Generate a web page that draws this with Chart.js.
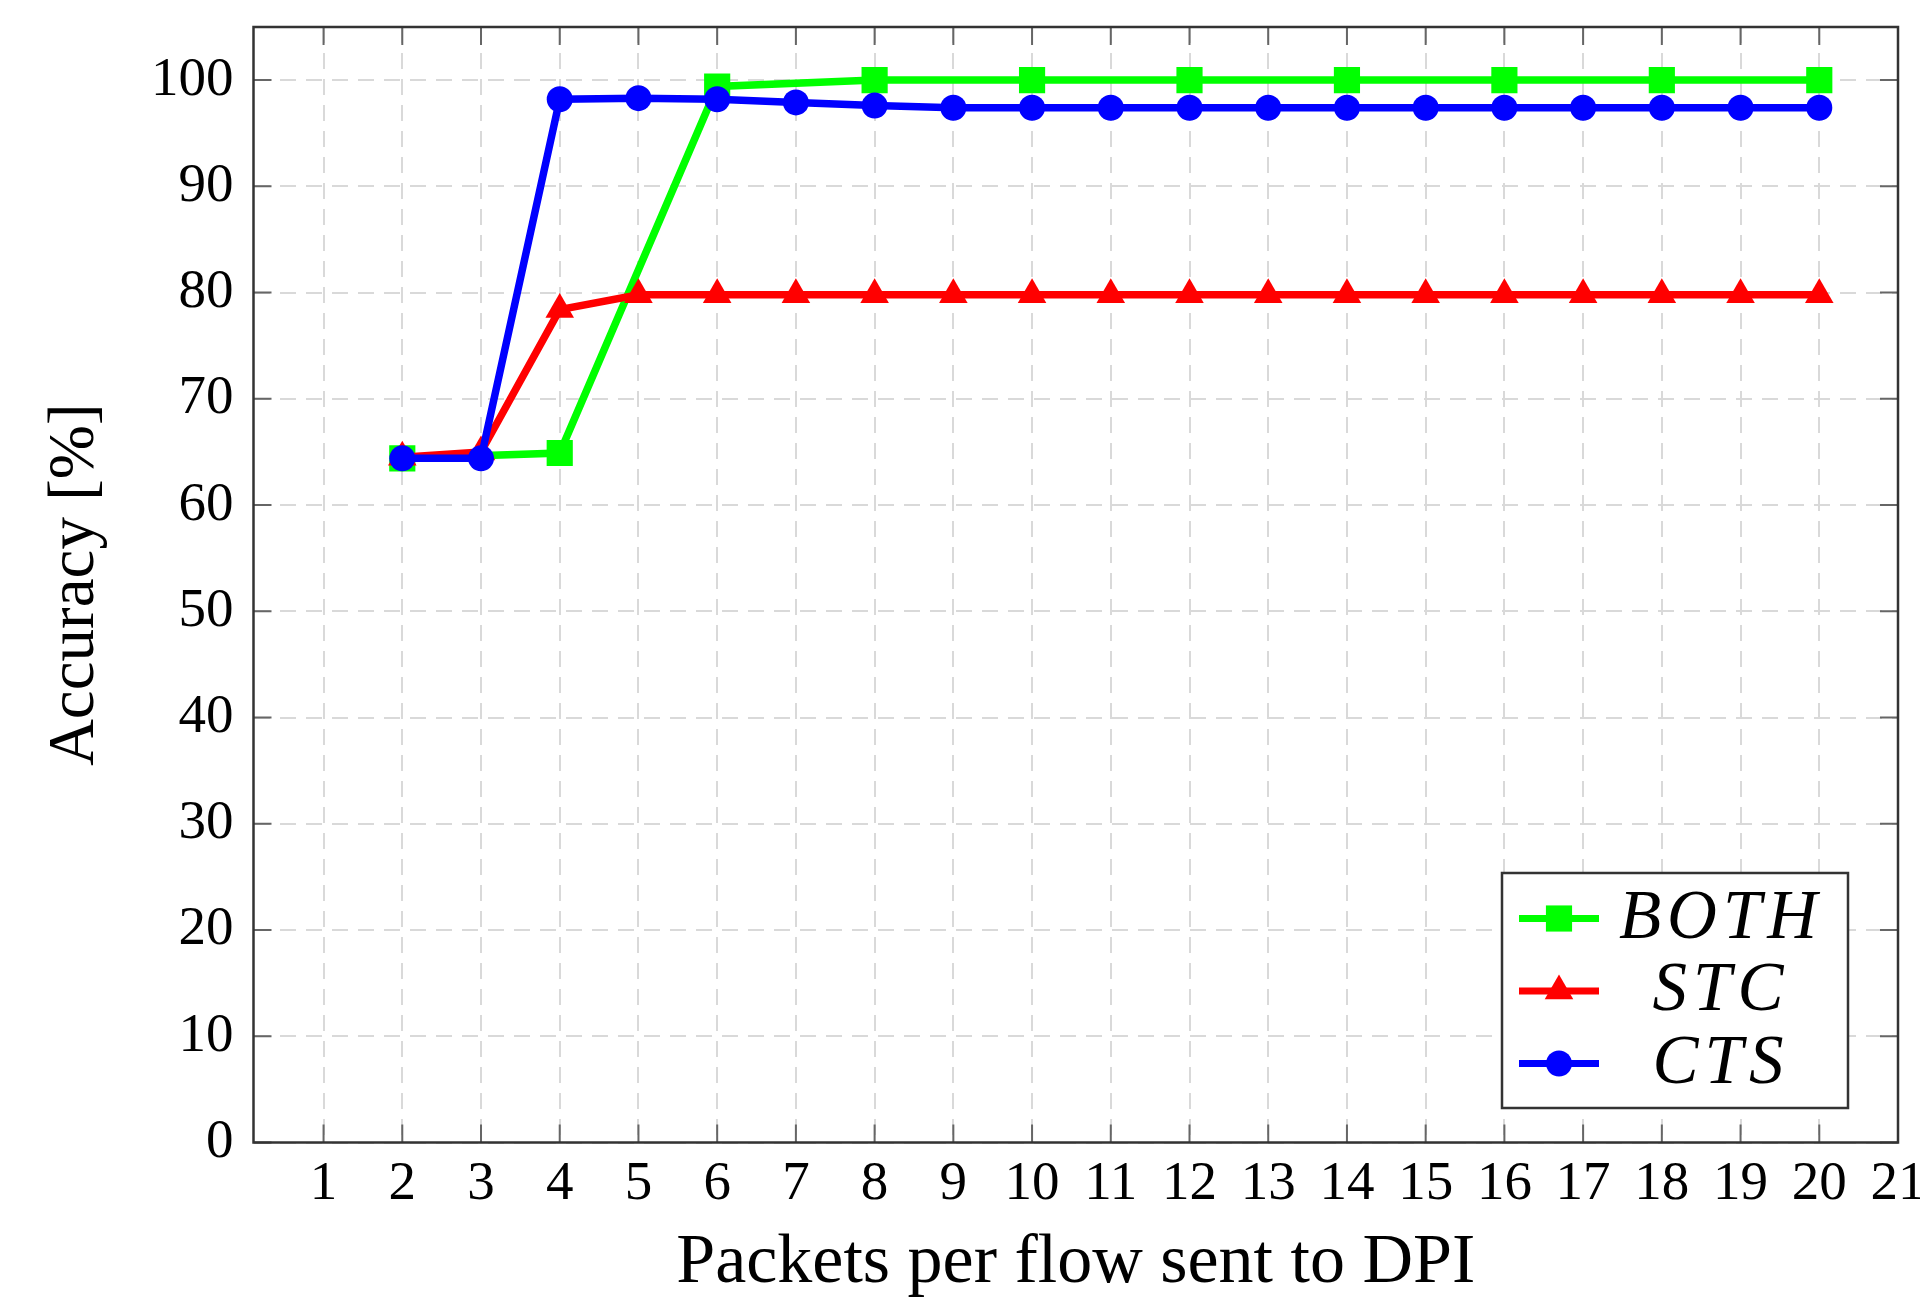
<!DOCTYPE html>
<html><head><meta charset="utf-8">
<script src="https://cdn.jsdelivr.net/npm/chart.js@4/dist/chart.umd.min.js"></script>
<style>html,body{margin:0;padding:0;background:#fff;}#wrap{width:1920px;height:1297px;}</style>
</head><body><div id="wrap"><canvas id="c" width="1920" height="1297"></canvas></div>
<script>
const packets = [2,3,4,5,6,7,8,9,10,11,12,13,14,15,16,17,18,19,20];
const xTickValues = [1,2,3,4,5,6,7,8,9,10,11,12,13,14,15,16,17,18,19,20,21];
const yTickValues = [0,10,20,30,40,50,60,70,80,90,100];
const bothX = [2,4,6,8,10,12,14,16,18,20];
const bothY = [64.4,64.9,99.4,100,100,100,100,100,100,100];
const stcY = [64.5,65.0,78.4,79.8,79.8,79.8,79.8,79.8,79.8,79.8,79.8,79.8,79.8,79.8,79.8,79.8,79.8,79.8,79.8];
const ctsY = [64.4,64.4,98.2,98.3,98.2,97.9,97.6,97.4,97.4,97.4,97.4,97.4,97.4,97.4,97.4,97.4,97.4,97.4,97.4];
const seriesNames = ['BOTH','STC','CTS'];
const xTitle = 'Packets per flow sent to DPI';
const yTitle = 'Accuracy [%]';

const FONT = "'Liberation Serif', 'DejaVu Serif', serif";

const framePlugin = {
  id: 'frame',
  beforeDatasetsDraw(chart) {
    const {ctx, chartArea: a, scales: {x, y}} = chart;
    ctx.save();
    ctx.strokeStyle = '#666';
    ctx.lineWidth = 2;
    const L = 18;
    ctx.beginPath();
    for (const t of x.ticks) {
      const px = x.getPixelForValue(t.value);
      ctx.moveTo(px, a.bottom); ctx.lineTo(px, a.bottom - L);
      ctx.moveTo(px, a.top); ctx.lineTo(px, a.top + L);
    }
    for (const t of y.ticks) {
      const py = y.getPixelForValue(t.value);
      ctx.moveTo(a.left, py); ctx.lineTo(a.left + L, py);
      ctx.moveTo(a.right, py); ctx.lineTo(a.right - L, py);
    }
    ctx.stroke();
    ctx.strokeStyle = '#333';
    ctx.lineWidth = 2.5;
    ctx.strokeRect(a.left, a.top, a.right - a.left, a.bottom - a.top);
    ctx.restore();
  },
  afterDraw(chart) {
    const {ctx, chartArea: a} = chart;
    const bw = 346, bh = 235;
    const bx = a.right - 50 - bw, by = a.bottom - 34.5 - bh;
    ctx.save();
    ctx.fillStyle = '#fff';
    ctx.fillRect(bx, by, bw, bh);
    ctx.strokeStyle = '#333';
    ctx.lineWidth = 2.5;
    ctx.strokeRect(bx, by, bw, bh);
    chart.data.datasets.forEach((ds, i) => {
      const cy = by + 45.5 + i * 72.5;
      ctx.strokeStyle = ds.borderColor;
      ctx.lineWidth = 7;
      ctx.beginPath();
      ctx.moveTo(bx + 17, cy); ctx.lineTo(bx + 97, cy);
      ctx.stroke();
      ctx.fillStyle = ds.backgroundColor;
      ctx.strokeStyle = ds.borderColor;
      Chart.helpers.drawPoint(ctx, {pointStyle: ds.pointStyle, radius: ds.pointRadius, borderWidth: 0, rotation: 0}, bx + 57, cy);
      ctx.fillStyle = '#000';
      ctx.font = 'italic 69px ' + FONT;
      ctx.letterSpacing = '6px';
      ctx.textAlign = 'center';
      ctx.textBaseline = 'alphabetic';
      ctx.fillText(ds.label, bx + 219, cy + 19);
    });
    ctx.restore();
  }
};

const gridCommon = {color: '#d9d9d9', lineWidth: 2, drawTicks: false};
const borderCommon = {display: false, dash: [16, 10]};

new Chart(document.getElementById('c'), {
  type: 'line',
  data: {
    datasets: [
      {label: seriesNames[0], data: bothX.map((x, i) => ({x, y: bothY[i]})),
       borderColor: '#00ff00', backgroundColor: '#00ff00', borderWidth: 7.5,
       pointStyle: 'rect', pointRadius: 18.5, pointBorderWidth: 0, order: 3},
      {label: seriesNames[1], data: packets.map((x, i) => ({x, y: stcY[i]})),
       borderColor: '#ff0000', backgroundColor: '#ff0000', borderWidth: 7.5,
       pointStyle: 'triangle', pointRadius: 16.5, pointBorderWidth: 0, order: 2},
      {label: seriesNames[2], data: packets.map((x, i) => ({x, y: ctsY[i]})),
       borderColor: '#0000ff', backgroundColor: '#0000ff', borderWidth: 7.5,
       pointStyle: 'circle', pointRadius: 13, pointBorderWidth: 0, order: 1}
    ]
  },
  options: {
    responsive: false,
    animation: false,
    devicePixelRatio: 1,
    events: [],
    layout: {padding: {left: 43.5, right: 22, top: 27, bottom: 0}},
    plugins: {legend: {display: false}, tooltip: {enabled: false}},
    scales: {
      x: {
        type: 'linear', min: 0.11, max: 21,
        afterBuildTicks(s) { s.ticks = xTickValues.map(v => ({value: v})); },
        afterFit(s) { s.height = 154.5; s.paddingLeft = 0; s.paddingRight = 0; },
        ticks: {font: {family: FONT, size: 55}, color: '#000', padding: 9, maxRotation: 0, autoSkip: false},
        grid: gridCommon, border: borderCommon,
        title: {display: true, text: xTitle, color: '#000', padding: 0, font: {family: FONT, size: 70, lineHeight: 0.94}}
      },
      y: {
        min: 0, max: 105,
        afterBuildTicks(s) { s.ticks = yTickValues.map(v => ({value: v})); },
        afterFit(s) { s.width = 210; s.paddingTop = 0; s.paddingBottom = 0; },
        ticks: {font: {family: FONT, size: 55}, color: '#000', padding: 20},
        grid: gridCommon, border: borderCommon,
        title: {display: true, text: yTitle, color: '#000', padding: 0, font: {family: FONT, size: 65, lineHeight: 1}}
      }
    }
  },
  plugins: [framePlugin]
});
</script>
</body></html>
